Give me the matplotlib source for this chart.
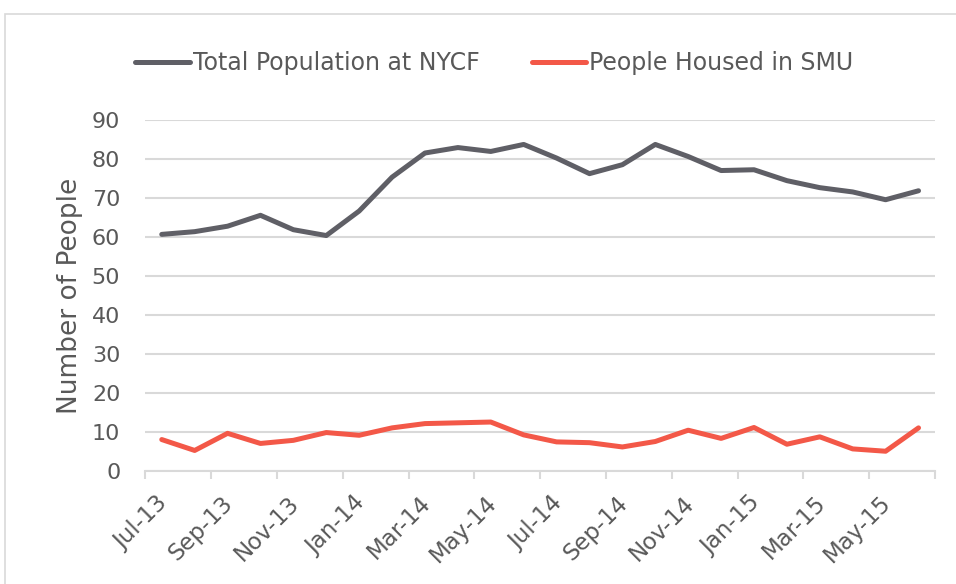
import matplotlib
matplotlib.use("Agg")
import matplotlib.pyplot as plt
import matplotlib.transforms as mtransforms
from matplotlib.patches import Rectangle

months = ["Jul-13", "Aug-13", "Sep-13", "Oct-13", "Nov-13", "Dec-13",
          "Jan-14", "Feb-14", "Mar-14", "Apr-14", "May-14", "Jun-14",
          "Jul-14", "Aug-14", "Sep-14", "Oct-14", "Nov-14", "Dec-14",
          "Jan-15", "Feb-15", "Mar-15", "Apr-15", "May-15", "Jun-15"]

total_pop = [60.7, 61.4, 62.8, 65.6, 61.9, 60.4, 66.7, 75.4, 81.6, 83.0, 82.0, 83.8,
             80.3, 76.3, 78.6, 83.8, 80.7, 77.1, 77.3, 74.5, 72.7, 71.6, 69.6, 71.9]
smu = [8.0, 5.2, 9.6, 7.0, 7.8, 9.8, 9.1, 11.0, 12.1, 12.3, 12.5, 9.2,
       7.4, 7.2, 6.1, 7.5, 10.4, 8.3, 11.1, 6.8, 8.7, 5.6, 5.0, 11.0]

grey = "#5f5f66"
red = "#f35848"
txt = "#595959"
grid = "#d9d9d9"

fig = plt.figure(figsize=(9.56, 5.84), dpi=100)
fig.patches.append(Rectangle((5 / 956, -0.1), 1.2, 1 - 14 / 584 + 0.1, transform=fig.transFigure,
                             fill=False, edgecolor=grid, linewidth=1.2))
ax = fig.add_axes([0.152, 0.194, 0.826, 0.6])

x = list(range(len(months)))
ax.plot(x, total_pop, color=grey, lw=3.6, label="Total Population at NYCF", solid_capstyle="round")
ax.plot(x, smu, color=red, lw=3.6, label="People Housed in SMU", solid_capstyle="round")

ax.set_xlim(-0.5, len(months) - 0.5)
ax.set_ylim(0, 90)
ax.set_yticks(range(0, 91, 10))
ax.yaxis.grid(True, color=grid, lw=1.5)
ax.set_axisbelow(True)
for s in ["top", "right", "left"]:
    ax.spines[s].set_visible(False)
ax.spines["bottom"].set_color(grid)
ax.spines["bottom"].set_linewidth(1.5)
ax.tick_params(axis="y", length=0, labelsize=16, labelcolor=txt, pad=18)

# tick marks between categories, labels on every other month
ax.set_xticks([i - 0.5 for i in range(0, len(months) + 1, 2)])
ax.set_xticklabels([])
ax.tick_params(axis="x", which="major", length=6, color=grid, width=1.5)
ax.set_xticks(x[::2], minor=True)
ax.set_xticklabels(months[::2], minor=True, rotation=45, ha="right", rotation_mode="anchor")
ax.tick_params(axis="x", which="minor", length=0, labelsize=16.5, labelcolor=txt, pad=15)
shift = mtransforms.ScaledTranslation(-6 / 100, 0, fig.dpi_scale_trans)
for lab in ax.get_xticklabels(minor=True):
    lab.set_transform(lab.get_transform() + shift)

ax.set_ylabel("Number of People", fontsize=19, color=txt, labelpad=6)

fig.legend(loc="center", bbox_to_anchor=(0.517, 0.892), ncol=2, frameon=False,
           fontsize=17, labelcolor=txt, handlelength=2.3, handletextpad=0.13, columnspacing=2.2)

fig.savefig("out.png", dpi=100, facecolor="white")
